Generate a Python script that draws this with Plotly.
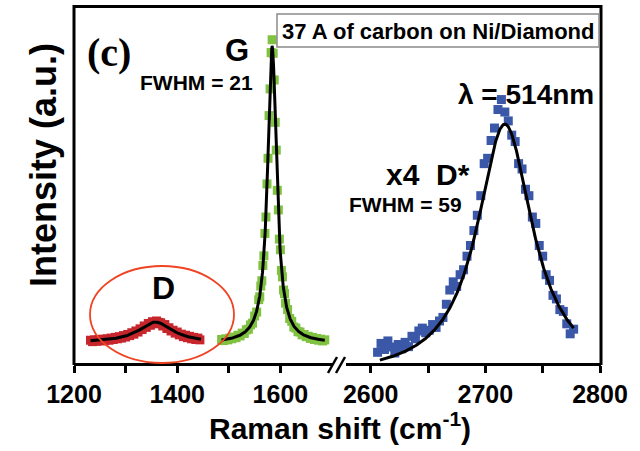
import numpy as np
import plotly.graph_objects as go

# ---- Raman spectrum of 37 A carbon on Ni/Diamond (514 nm excitation) ----
# D band
d_shift = [1232, 1236, 1240, 1244, 1248, 1252, 1256, 1260, 1264, 1268,
           1272, 1276, 1280, 1284, 1288, 1292, 1296, 1300, 1304, 1308,
           1312, 1316, 1320, 1324, 1328, 1332, 1336, 1340, 1344, 1348,
           1352, 1356, 1360, 1364, 1368, 1372, 1376, 1380, 1384, 1388,
           1392, 1396, 1400, 1404, 1408, 1412, 1416, 1420, 1424, 1428,
           1432, 1436, 1440, 1444]
d_counts = [64, 60, 65, 61, 66, 62, 67, 63, 68, 64,
            70, 66, 72, 68, 74, 70, 77, 73, 80, 77,
            85, 81, 90, 87, 96, 94, 104, 100, 111, 106,
            116, 110, 118, 114, 113, 104, 108, 97, 99, 90,
            92, 84, 87, 79, 81, 74, 78, 71, 75, 68,
            72, 66, 70, 65]

# G band
g_shift = [1486, 1490, 1494, 1498, 1502, 1506, 1510, 1514, 1518, 1522,
           1526, 1530, 1534, 1538, 1542, 1546, 1550, 1554, 1558,
           1560, 1562, 1564, 1566, 1568, 1570, 1572, 1574, 1576, 1578,
           1580, 1582, 1584, 1586, 1588, 1590, 1592, 1594, 1596, 1598,
           1600, 1602, 1604, 1606, 1608, 1610,
           1614, 1618, 1622, 1626, 1630, 1634, 1638, 1642, 1646, 1650,
           1654, 1658, 1662, 1666, 1670, 1674, 1678, 1682, 1686]
g_counts = [66, 63, 68, 65, 70, 68, 73, 71, 78, 76,
            84, 83, 93, 95, 107, 112, 132, 143, 178,
            186, 216, 231, 274, 301, 364, 410, 503, 575, 695,
            770, 872, 908, 870, 795, 676, 598, 485, 430, 348,
            318, 260, 242, 205, 195, 168,
            150, 125, 117, 101, 98, 88, 87, 79, 80, 74,
            75, 69, 72, 66, 69, 64, 67, 62, 65]

# D* (2D) band, shown x4
dstar_shift = [2606, 2609, 2612, 2615, 2618, 2621, 2624, 2627, 2630, 2633,
               2636, 2639, 2642, 2645, 2648, 2651, 2654, 2657, 2660, 2663,
               2666, 2669, 2672, 2675, 2678, 2681, 2684, 2687, 2690, 2693,
               2696, 2699, 2702, 2705, 2708, 2711, 2714, 2717, 2720, 2723,
               2726, 2729, 2732, 2735, 2738, 2741, 2744, 2747, 2750, 2753,
               2756, 2759, 2762, 2765, 2768, 2771, 2774, 2777]
dstar_counts = [30, 55, 38, 62, 45, 28, 52, 40, 58, 46,
                75, 68, 90, 98, 85, 92, 108, 100, 118, 128,
                165, 205, 228, 215, 248, 262, 300, 330, 372, 415,
                470, 560, 575, 625, 660, 712, 740, 705, 680, 640,
                622, 560, 545, 488, 470, 410, 392, 330, 300, 248,
                232, 190, 180, 150, 145, 110, 82, 95]

# Lorentzian fit parameters: centre, FWHM, height above baseline, baseline
d_fit = dict(center=1358, fwhm=80, height=58, base=57, lo=1232, hi=1446)
g_fit = dict(center=1584, fwhm=21, height=833, base=55, lo=1486, hi=1686)
dstar_fit = dict(center=2717, fwhm=59, height=711.6, base=-40.6, lo=2608, hi=2777)

left_ticks = [1200, 1400, 1600]
left_minor = [1300, 1500]
right_ticks = [2600, 2700, 2800]
right_minor = [2650, 2750]

RED, GREEN, BLUE = "#c7262d", "#80c241", "#3b58a8"


def lorentz(p, n=400):
    x = np.linspace(p["lo"], p["hi"], n)
    hw = p["fwhm"] / 2.0
    y = p["base"] + p["height"] / (1.0 + ((x - p["center"]) / hw) ** 2)
    return x, y


# ---- page geometry (pixels) ----
W, H = 640, 451
ML, MR, MT, MB = 74, 39, 7, 88
PW, PH = W - ML - MR, H - MT - MB


def fx(px):
    return (px - ML) / PW


def fy(py):
    return (H - MB - py) / PH


fig = go.Figure()

marker = dict(symbol="square", size=9, line=dict(width=0))
fig.add_trace(go.Scatter(x=d_shift, y=d_counts, mode="markers", xaxis="x", yaxis="y",
                         marker=dict(color=RED, **marker)))
fig.add_trace(go.Scatter(x=g_shift, y=g_counts, mode="markers", xaxis="x", yaxis="y",
                         marker=dict(color=GREEN, **marker)))
fig.add_trace(go.Scatter(x=dstar_shift, y=dstar_counts, mode="markers", xaxis="x2", yaxis="y",
                         marker=dict(color=BLUE, **marker)))

for p, ax in ((d_fit, "x"), (g_fit, "x"), (dstar_fit, "x2")):
    xf, yf = lorentz(p)
    fig.add_trace(go.Scatter(x=xf, y=yf, mode="lines", xaxis=ax, yaxis="y",
                             line=dict(color="black", width=3)))

# broken x axis: left segment 1200-1700, right segment 2578-2800
left_end_px, right_start_px = 333, 346
left_scale = 0.516      # px per cm^-1
right_scale = 1.1465
left_range = [1200, 1200 + (left_end_px - ML) / left_scale]
right_range = [2600 - (370.7 - right_start_px) / right_scale,
               2600 + (ML + PW - 370.7) / right_scale]

tickfont = dict(family="Arial, Liberation Sans, sans-serif", size=25,
                color="black", weight="bold")
axis_common = dict(showline=True, linecolor="black", linewidth=3, ticks="outside",
                   ticklen=7, tickwidth=2.5, tickcolor="black", showgrid=False,
                   zeroline=False, tickfont=tickfont, mirror=False)

fig.update_layout(
    width=W, height=H,
    margin=dict(l=ML, r=MR, t=MT, b=MB, pad=0),
    paper_bgcolor="white", plot_bgcolor="white",
    showlegend=False,
    xaxis=dict(domain=[0, fx(left_end_px)], range=left_range, anchor="y",
               tickvals=left_ticks, ticktext=[str(v) for v in left_ticks],
               minor=dict(tickvals=left_minor, ticks="outside", ticklen=7,
                          tickwidth=2.5, tickcolor="black"),
               **axis_common),
    xaxis2=dict(domain=[fx(right_start_px), 1], range=right_range, anchor="y",
                tickvals=right_ticks, ticktext=[str(v) for v in right_ticks],
                minor=dict(tickvals=right_minor, ticks="outside", ticklen=7,
                           tickwidth=2.5, tickcolor="black"),
                **axis_common),
    yaxis=dict(range=[0, 1000], showline=False, showticklabels=False, ticks="",
               showgrid=False, zeroline=False),
)

# frame and axis-break marks
line_k = dict(color="black", width=3)
shapes = [
    dict(type="line", xref="paper", yref="paper", x0=fx(74), x1=fx(601),
         y0=fy(6.5), y1=fy(6.5), line=line_k),
    dict(type="line", xref="paper", yref="paper", x0=fx(74), x1=fx(74),
         y0=fy(5), y1=fy(365), line=line_k),
    dict(type="line", xref="paper", yref="paper", x0=fx(601), x1=fx(601),
         y0=fy(5), y1=fy(365), line=line_k),
    dict(type="line", xref="paper", yref="paper", x0=fx(328), x1=fx(337),
         y0=fy(373), y1=fy(357), line=dict(color="black", width=2.5)),
    dict(type="line", xref="paper", yref="paper", x0=fx(336), x1=fx(345),
         y0=fy(373), y1=fy(357), line=dict(color="black", width=2.5)),
    # sample label box
    dict(type="rect", xref="paper", yref="paper", x0=fx(277), x1=fx(599),
         y0=fy(47), y1=fy(14), line=dict(color="#8a8a8a", width=1.5),
         fillcolor="white", layer="above"),
    # highlight around the D band
    dict(type="circle", xref="paper", yref="paper", x0=fx(90), x1=fx(234),
         y0=fy(363), y1=fy(266), line=dict(color="#ef4423", width=1.8)),
]
fig.update_layout(shapes=shapes)

SANS = "Arial, Liberation Sans, sans-serif"


def label(text, px, py, size, family=SANS, angle=0):
    fig.add_annotation(text=text, x=fx(px), y=fy(py), xref="paper", yref="paper",
                       showarrow=False, xanchor="center", yanchor="middle",
                       textangle=angle,
                       font=dict(family=family, size=size, color="black", weight="bold"))


label("(c)", 109, 52, 40, family="Times New Roman, Liberation Serif, serif")
label("G", 237, 50, 31)
label("FWHM = 21", 196, 82, 21)
label("37 A of carbon on Ni/Diamond", 438, 31, 22)
label("λ = 514nm", 526, 94, 28)
label("x4  D*", 428, 174, 30)
label("FWHM = 59", 405, 204, 21)
label("D", 163, 288, 32)
label("Intensity (a.u.)", 43, 165, 36, angle=-90)
label("Raman shift (cm<sup>-1</sup>)", 340, 426, 30)

fig.write_html("out.html")
